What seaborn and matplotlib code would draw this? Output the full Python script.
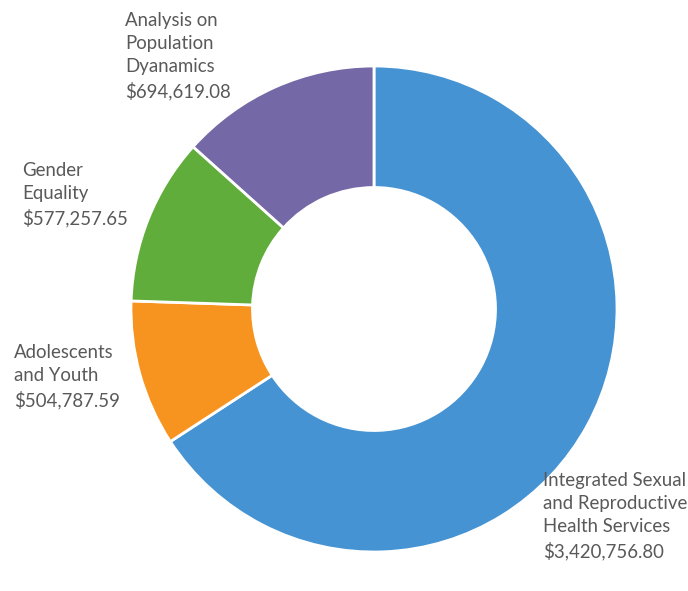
import matplotlib
matplotlib.use("Agg")
import matplotlib.pyplot as plt
import seaborn as sns

# Budget by programme area (clockwise from 12 o'clock)
areas = ["Integrated Sexual\nand Reproductive\nHealth Services",
         "Adolescents\nand Youth",
         "Gender\nEquality",
         "Analysis on\nPopulation\nDyanamics"]
amounts = [3420756.80, 504787.59, 577257.65, 694619.08]
colors = ["#4593D3", "#F7931F", "#60AD3B", "#7568A6"]

# label anchors (left x, top y) in figure pixels
label_pos = [(543, 472), (14, 344), (22, 162), (125, 12)]

sns.set_theme(style="white")
plt.rcParams["font.family"] = ["Lato", "DejaVu Sans"]

W, H = 688, 591
fig = plt.figure(figsize=(W / 100, H / 100), dpi=100)
ax = fig.add_axes([0, 0, 1, 1])

R = 243.0      # outer radius in px
cx, cy = 374, 309

ax.pie(amounts, colors=sns.color_palette(colors), startangle=90, counterclock=False,
       radius=1.0, wedgeprops=dict(width=0.5, edgecolor="white", linewidth=2))
ax.set_xlim(-cx / R, (W - cx) / R)
ax.set_ylim(-(H - cy) / R, cy / R)
ax.set_aspect("auto")
ax.axis("off")

for name, val, (px, py) in zip(areas, amounts, label_pos):
    fig.text(px / W, 1 - py / H, f"{name}\n${val:,.2f}", ha="left", va="top",
             fontsize=13.4, color="#595959", linespacing=1.43)

fig.savefig("out.png", dpi=100, facecolor="white")
